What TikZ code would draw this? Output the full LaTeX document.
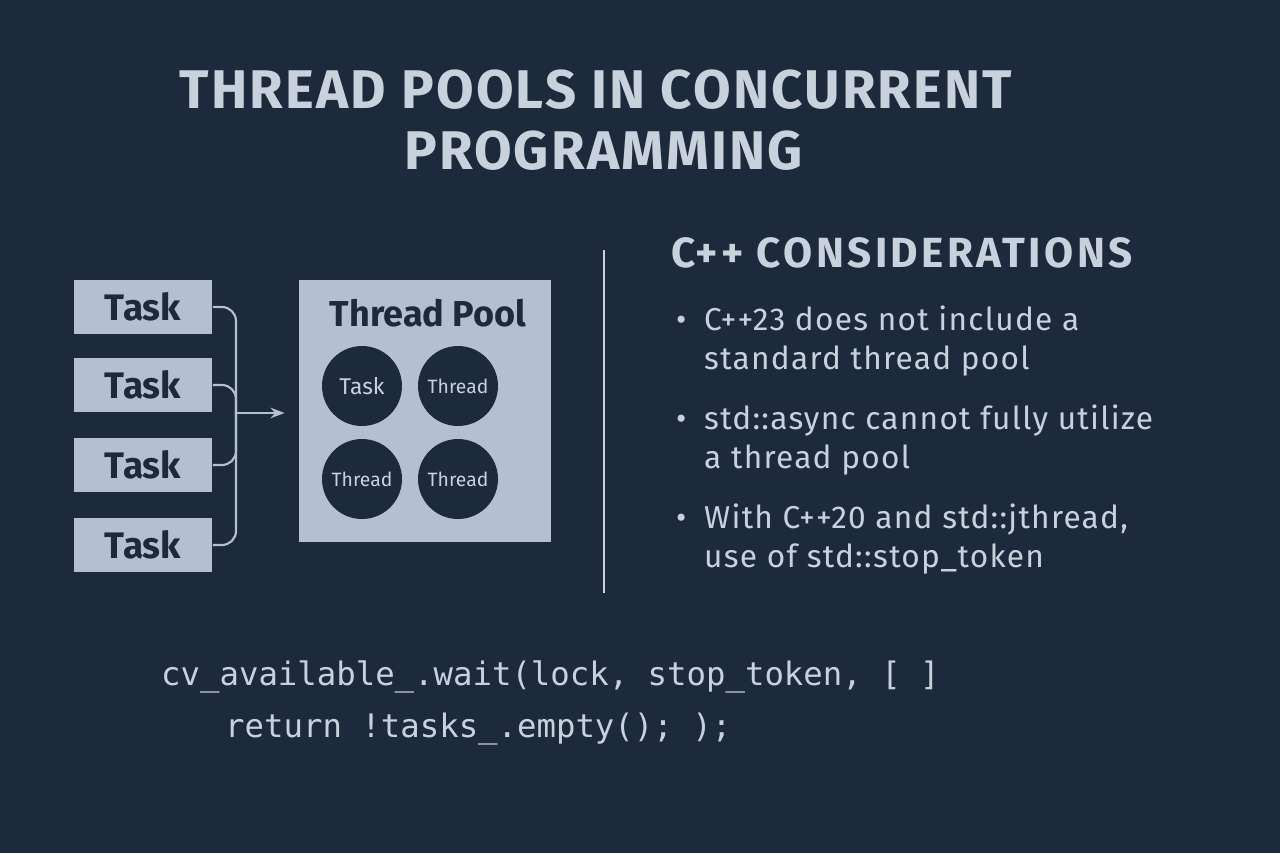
\documentclass[tikz,border=0pt]{standalone}
\usepackage{fontspec}
\setmainfont{Fira Sans}
\setmonofont{DejaVu Sans Mono}
\usetikzlibrary{positioning,arrows.meta}
\definecolor{bgblue}{HTML}{1C2A3C}
\definecolor{inkgray}{HTML}{C9D1DC}
\definecolor{boxgray}{HTML}{B4BFCF}
\tikzset{
  task/.style={fill=boxgray, minimum width=2.78cm, minimum height=1.08cm, inner sep=0pt, text=bgblue, font=\fontsize{21}{22}\selectfont\bfseries},
  worker/.style={circle, fill=bgblue, minimum size=1.6cm, inner sep=0pt, text=inkgray, font=\fontsize{11}{12}\selectfont},
  bullet/.style={anchor=west, text=inkgray, font=\fontsize{18}{22.7}\selectfont\addfontfeature{LetterSpace=4}},
  link/.style={draw=boxgray, line width=1.2pt, rounded corners=8pt}
}
\begin{document}
\begin{tikzpicture}[x=0.02cm, y=-0.02cm]
  \fill[bgblue] (0,0) rectangle (1280,853);
  \useasboundingbox (0,0) rectangle (1280,853);

  % title
  \node[text=inkgray, font=\fontsize{31}{33}\selectfont\bfseries\addfontfeature{LetterSpace=4}, align=center] (title) at (596,120)
    {THREAD POOLS IN CONCURRENT\\[2pt]\hspace*{0.3cm}PROGRAMMING};

  % tasks
  \node[task] (t1) at (143,307) {Task};
  \node[task] (t2) at (143,385) {Task};
  \node[task] (t3) at (143,465) {Task};
  \node[task] (t4) at (143,545) {Task};
  \coordinate (merge) at (236,413);

  % pool
  \node[fill=boxgray, minimum width=5.04cm, minimum height=5.26cm, inner sep=0pt] (pool) at (425,411) {};
  \node[text=bgblue, font=\fontsize{20.5}{22}\selectfont\bfseries] (pooltitle) at (428,313) {Thread Pool};
  \node[worker] (w1) at (362,386) {\fontsize{13}{14}\selectfont Task};
  \node[worker] (w2) at (458,386) {Thread};
  \node[worker] (w3) at (362,479) {Thread};
  \node[worker] (w4) at (458,479) {Thread};

  % connectors
  \foreach \t in {t1,t2,t3,t4}
    \draw[link] (\t.east) -| (merge);
  \draw[draw=boxgray, line width=1.2pt, -{Stealth[length=8pt]}, shorten >=8pt] (merge) -- (merge -| pool.west);

  % divider
  \draw[draw=boxgray!70, line width=1pt] (604,250) coordinate (dtop) -- (604,593) coordinate (dbot);

  % considerations
  \node[anchor=west, text=inkgray, font=\fontsize{24}{26}\selectfont\bfseries\addfontfeature{LetterSpace=8}] (cpp) at (665,253) {C++ CONSIDERATIONS};
  \node[bullet] (b1) at (670,323) {•};
  \node[bullet, align=left] (b1t) at (698,341) {C++23 does not include a\\standard thread pool};
  \node[bullet] (b2) at (670,422) {•};
  \node[bullet, align=left] (b2t) at (698,440) {std::async cannot fully utilize\\a thread pool};
  \node[bullet] (b3) at (670,521) {•};
  \node[bullet, align=left] (b3t) at (698,539) {With C++20 and std::jthread,\\use of std::stop\_token};

  % code
  \node[anchor=west, text=inkgray, font=\ttfamily\fontsize{18.4}{21}\selectfont] (code1) at (155,677) {cv\_available\_.wait(lock, stop\_token, [ ]};
  \node[anchor=west, text=inkgray, font=\ttfamily\fontsize{18.4}{21}\selectfont] (code2) at (219,729) {return !tasks\_.empty(); );};
\end{tikzpicture}
\end{document}
